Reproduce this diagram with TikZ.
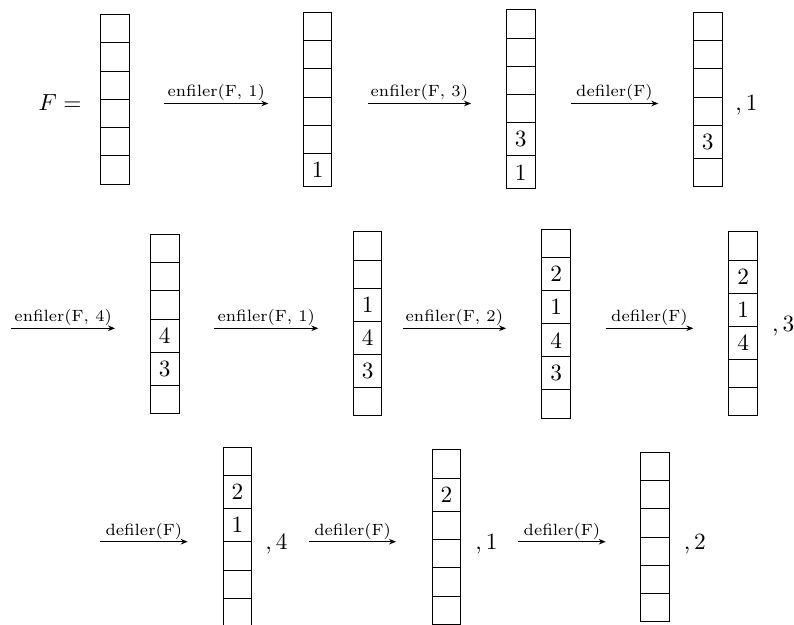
\documentclass[tikz,border=0pt]{standalone}
\usetikzlibrary{arrows.meta}
\tikzset{
 ecell/.style={draw, line width=0.4pt, inner sep=0pt, outer sep=0pt, minimum width=12.23pt, minimum height=12.15pt},
 ncell/.style={ecell, minimum height=14.16pt},
 oparrow/.style={-{Stealth[length=3pt,width=2.4pt]}, line width=0.4pt},
 oplabel/.style={font=\scriptsize, anchor=base, inner sep=0pt, yshift=2.8pt},
 res/.style={anchor=base west, inner sep=0pt},
}
\def\emptymark{-}
\newcommand\qstack[3]{%
  \node[inner sep=0pt, outer sep=0pt, minimum size=0pt] (#1-0) at (#2) {};
  \foreach \v [count=\i, remember=\i as \j (initially 0)] in {#3} {%
    \ifx\v\emptymark
      \node[ecell, anchor=north] (#1-\i) at (#1-\j.south) {};
    \else
      \node[ncell, anchor=north] (#1-\i) at (#1-\j.south) {\v};
    \fi
  }%
}
\begin{document}
\begin{tikzpicture}[x=0.4292pt, y=-0.4292pt]
\useasboundingbox (0,0) rectangle (794,624);
% row 1
\node[anchor=base east, inner sep=0pt] (Flab) at (82,110) {$F=$};
\qstack{s1}{115,14.4}{-,-,-,-,-,-}
\qstack{s2}{317.7,12.05}{-,-,-,-,-,1}
\qstack{s3}{520.8,9.7}{-,-,-,-,3,1}
\qstack{s4}{707.8,12.05}{-,-,-,-,3,-}
\node[res] (r1) at (735,110) {$,1$};
% row 2
\qstack{s5}{164.8,234.1}{-,-,-,4,3,-}
\qstack{s6}{367.7,231.75}{-,-,1,4,3,-}
\qstack{s7}{556.2,229.4}{-,2,1,4,3,-}
\qstack{s8}{743.2,231.75}{-,2,1,4,-,-}
\node[res] (r2) at (771.7,331.7) {$,3$};
% row 3
\qstack{s9}{237.5,447.4}{-,2,1,-,-,-}
\qstack{s10}{446.5,449.75}{-,2,-,-,-,-}
\qstack{s11}{655,452.1}{-,-,-,-,-,-}
\node[res] (r3) at (265,549) {$,4$};
\node[res] (r4) at (475,549) {$,1$};
\node[res] (r5) at (683.3,549) {$,2$};
% arrows
\coordinate (a1s) at (164.3,103.5); \coordinate (a1e) at (268.3,103.5);
\coordinate (a2s) at (367.7,103.5); \coordinate (a2e) at (471,103.5);
\coordinate (a3s) at (570.7,103.5); \coordinate (a3e) at (658.3,103.5);
\coordinate (a4s) at (11.3,328.3); \coordinate (a4e) at (115,328.3);
\coordinate (a5s) at (214.3,328.3); \coordinate (a5e) at (318.3,328.3);
\coordinate (a6s) at (402.7,328.3); \coordinate (a6e) at (506,328.3);
\coordinate (a7s) at (605.7,328.3); \coordinate (a7e) at (693.3,328.3);
\coordinate (a8s) at (100,541.7); \coordinate (a8e) at (187.7,541.7);
\coordinate (a9s) at (309.3,541.7); \coordinate (a9e) at (396,541.7);
\coordinate (a10s) at (518.3,541.7); \coordinate (a10e) at (605.7,541.7);
\draw[oparrow] (a1s) -- node[oplabel] {enfiler(F, 1)} (a1e);
\draw[oparrow] (a2s) -- node[oplabel] {enfiler(F, 3)} (a2e);
\draw[oparrow] (a3s) -- node[oplabel] {defiler(F)} (a3e);
\draw[oparrow] (a4s) -- node[oplabel] {enfiler(F, 4)} (a4e);
\draw[oparrow] (a5s) -- node[oplabel] {enfiler(F, 1)} (a5e);
\draw[oparrow] (a6s) -- node[oplabel] {enfiler(F, 2)} (a6e);
\draw[oparrow] (a7s) -- node[oplabel] {defiler(F)} (a7e);
\draw[oparrow] (a8s) -- node[oplabel] {defiler(F)} (a8e);
\draw[oparrow] (a9s) -- node[oplabel] {defiler(F)} (a9e);
\draw[oparrow] (a10s) -- node[oplabel] {defiler(F)} (a10e);
\end{tikzpicture}
\end{document}
